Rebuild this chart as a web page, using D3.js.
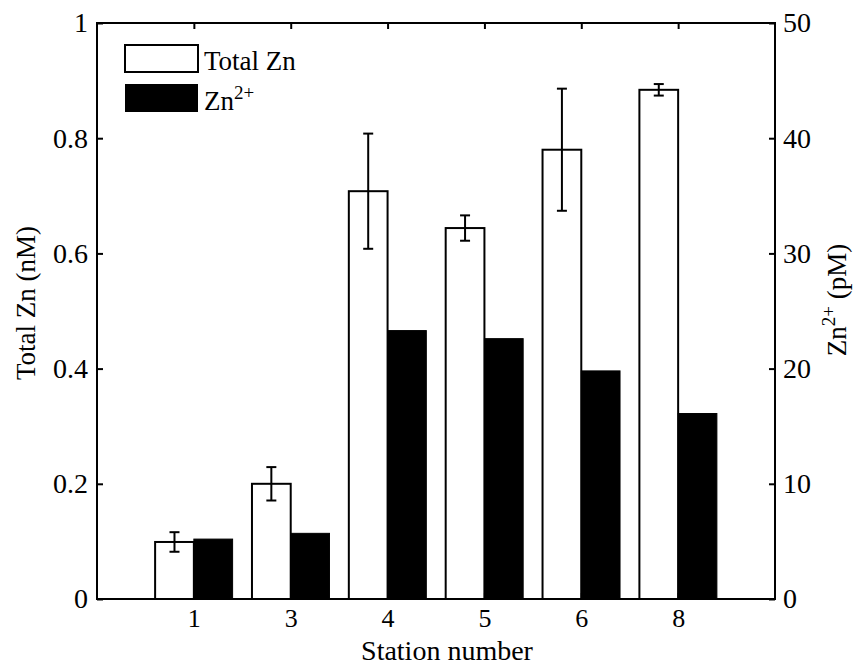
<!DOCTYPE html>
<html>
<head>
<meta charset="utf-8">
<script src="https://cdn.jsdelivr.net/npm/d3@7"></script>
<style>
  body { margin: 0; background: #fff; }
  text { font-family: "Liberation Serif", "Times New Roman", serif; fill: #000; }
</style>
</head>
<body>
<div id="chart"></div>
<script>
// Data
var stations = ["1", "3", "4", "5", "6", "8"];
var totalZn = [0.099, 0.200, 0.708, 0.644, 0.780, 0.884];     // nM
var totalZnErr = [0.017, 0.029, 0.100, 0.022, 0.106, 0.010];  // nM
var zn2 = [5.2, 5.7, 23.3, 22.6, 19.8, 16.1];                 // pM
var leftTicks = [0, 0.2, 0.4, 0.6, 0.8, 1];
var rightTicks = [0, 10, 20, 30, 40, 50];

var width = 862;
var height = 667;
var plotLeft = 97, plotRight = 775, plotTop = 23, plotBottom = 599;
var barW = 0.4; // in station units

var svg = d3.select("#chart")
  .append("svg")
  .attr("width", width)
  .attr("height", height);

var xScale = d3.scaleLinear().domain([0, stations.length + 1]).range([plotLeft, plotRight]);
var yLeft = d3.scaleLinear().domain([0, 1]).range([plotBottom, plotTop]);
var yRight = d3.scaleLinear().domain([0, 50]).range([plotBottom, plotTop]);

var pos = stations.map(function(d, i) { return i + 1; });

// Total Zn bars (white, outlined)
svg.selectAll(".tot")
  .data(totalZn)
  .enter()
  .append("rect")
  .attr("class", "tot")
  .attr("x", function(d, i) { return xScale(pos[i] - barW); })
  .attr("y", function(d) { return yLeft(d); })
  .attr("width", xScale(barW) - xScale(0))
  .attr("height", function(d) { return plotBottom - yLeft(d); })
  .attr("fill", "#fff")
  .attr("stroke", "#000")
  .attr("stroke-width", 2);

// Zn2+ bars (black)
svg.selectAll(".free")
  .data(zn2)
  .enter()
  .append("rect")
  .attr("class", "free")
  .attr("x", function(d, i) { return xScale(pos[i]); })
  .attr("y", function(d) { return yRight(d); })
  .attr("width", xScale(barW) - xScale(0))
  .attr("height", function(d) { return plotBottom - yRight(d); })
  .attr("fill", "#000")
  .attr("stroke", "#000")
  .attr("stroke-width", 1);

// error bars on Total Zn
var err = svg.append("g").attr("stroke", "#000").attr("stroke-width", 2);
totalZn.forEach(function(v, i) {
  var cx = xScale(pos[i] - barW / 2);
  var hi = yLeft(v + totalZnErr[i]);
  var lo = yLeft(v - totalZnErr[i]);
  err.append("line").attr("x1", cx).attr("x2", cx).attr("y1", hi).attr("y2", lo);
  err.append("line").attr("x1", cx - 5).attr("x2", cx + 5).attr("y1", hi).attr("y2", hi);
  err.append("line").attr("x1", cx - 5).attr("x2", cx + 5).attr("y1", lo).attr("y2", lo);
});

// axes
var yAxisL = d3.axisLeft(yLeft).tickValues(leftTicks).tickSize(-6).tickPadding(9)
  .tickFormat(function(d) { return d3.format("")(d); });
var yAxisR = d3.axisRight(yRight).tickValues(rightTicks).tickSize(-6).tickPadding(8);
var xAxisB = d3.axisBottom(xScale).tickValues(pos).tickSize(-6).tickPadding(10)
  .tickFormat(function(d) { return stations[d - 1]; });
var xAxisT = d3.axisTop(xScale).tickValues(pos).tickSize(-6).tickFormat("");

function styleAxis(g, size) {
  g.select(".domain").remove();
  g.selectAll("line").attr("stroke", "#000").attr("stroke-width", 2);
  g.selectAll("text").attr("font-size", size || 28).attr("fill", "#000")
    .style("font-family", "'Liberation Serif', 'Times New Roman', serif");
}

svg.append("g").attr("transform", "translate(" + plotLeft + ",0)").call(yAxisL).call(styleAxis);
svg.append("g").attr("transform", "translate(" + plotRight + ",0)").call(yAxisR).call(styleAxis);
svg.append("g").attr("transform", "translate(0," + plotBottom + ")").call(xAxisB).call(styleAxis, 26);
svg.append("g").attr("transform", "translate(0," + plotTop + ")").call(xAxisT).call(styleAxis);

// box
svg.append("rect")
  .attr("x", plotLeft).attr("y", plotTop)
  .attr("width", plotRight - plotLeft).attr("height", plotBottom - plotTop)
  .attr("fill", "none").attr("stroke", "#000").attr("stroke-width", 2);

// axis labels
svg.append("text")
  .attr("transform", "translate(35,303) rotate(-90)")
  .attr("text-anchor", "middle")
  .attr("font-size", 27)
  .text("Total Zn (nM)");

var rl = svg.append("text")
  .attr("transform", "translate(846,300) rotate(-90)")
  .attr("text-anchor", "middle")
  .attr("font-size", 27);
rl.append("tspan").text("Zn");
rl.append("tspan").attr("font-size", 19).attr("dy", -11).text("2+");
rl.append("tspan").attr("dy", 11).text(" (pM)");

svg.append("text")
  .attr("x", 447).attr("y", 660)
  .attr("text-anchor", "middle")
  .attr("font-size", 28)
  .text("Station number");

// legend
var legend = svg.append("g");
legend.append("rect").attr("x", 125).attr("y", 45).attr("width", 73).attr("height", 27)
  .attr("fill", "#fff").attr("stroke", "#000").attr("stroke-width", 2);
legend.append("rect").attr("x", 125).attr("y", 84).attr("width", 73).attr("height", 28)
  .attr("fill", "#000");
legend.append("text").attr("x", 204).attr("y", 70).attr("font-size", 27).text("Total Zn");
var lz = legend.append("text").attr("x", 204).attr("y", 110).attr("font-size", 27);
lz.append("tspan").text("Zn");
lz.append("tspan").attr("font-size", 19).attr("dy", -11).text("2+");
</script>
</body>
</html>
